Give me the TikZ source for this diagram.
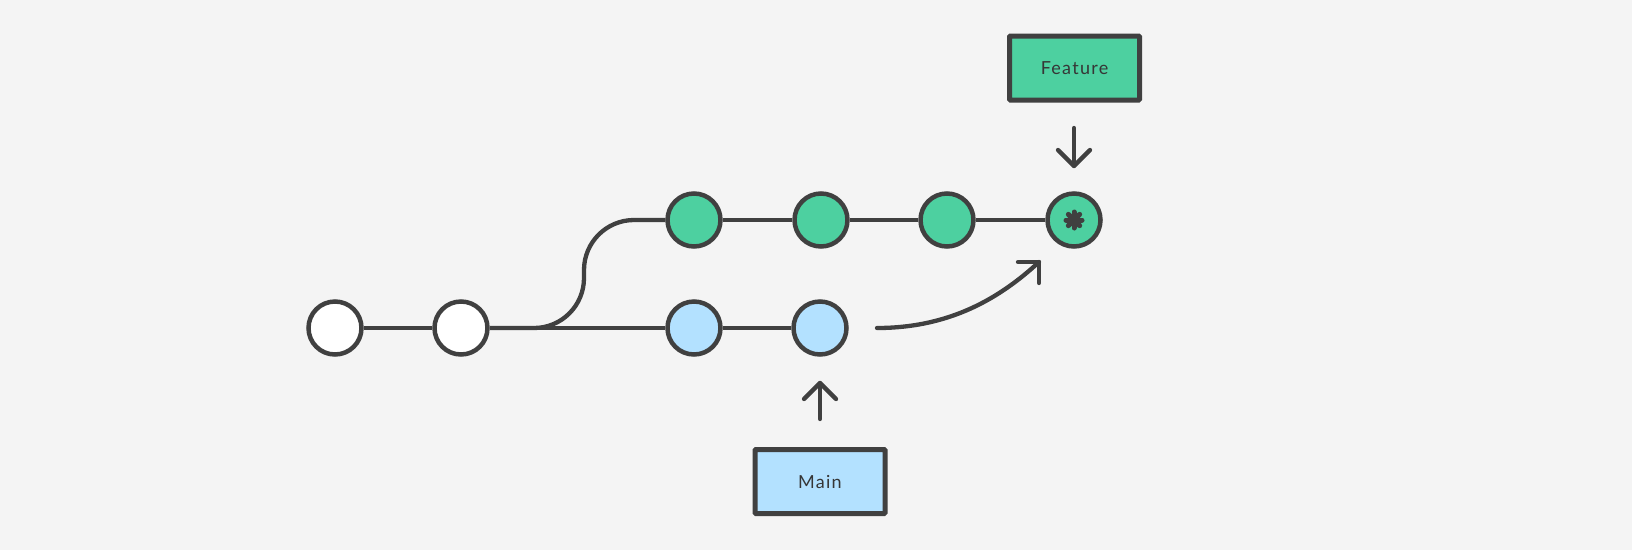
\documentclass[tikz,border=0pt]{standalone}
\usepackage{fontspec}
\setmainfont{Lato}
\usetikzlibrary{calc}
\definecolor{bg}{HTML}{F4F4F4}
\definecolor{ink}{HTML}{404040}
\definecolor{fgreen}{HTML}{4DD0A0}
\definecolor{mblue}{HTML}{B3E1FF}
\begin{document}
\begin{tikzpicture}[x=1pt,y=1pt,
  commit/.style={circle,draw=ink,line width=4.5pt,minimum size=53pt,inner sep=0pt},
  wcommit/.style={commit,fill=white},
  gcommit/.style={commit,fill=fgreen},
  bcommit/.style={commit,fill=mblue},
  label/.style={rectangle,draw=ink,line width=5pt,minimum width=130pt,minimum height=64pt,inner sep=0pt,rounded corners=1pt,font=\fontsize{18}{21}\selectfont\addfontfeatures{LetterSpace=7},text=ink!85!black},
  conn/.style={draw=ink,line width=4.3pt},
  ptr/.style={draw=ink,line width=4.3pt,line cap=round,line join=round}]
\fill[bg] (0,0) rectangle (1632,-550);
\useasboundingbox (0,0) rectangle (1632,-550);
% commits
\node[wcommit] (w1) at (335,-328) {};
\node[wcommit] (w2) at (461,-328) {};
\node[bcommit] (b1) at (694,-328) {};
\node[bcommit] (b2) at (820,-328) {};
\node[gcommit] (g1) at (694,-220) {};
\node[gcommit] (g2) at (821,-220) {};
\node[gcommit] (g3) at (947,-220) {};
\node[gcommit] (g4) at (1074,-220) {};
% asterisk in merge commit
\foreach \a in {0,45,90,135}
  \draw[ink,line width=5pt,line cap=round] ($(g4)+(\a:8)$) -- ($(g4)+(\a+180:8)$);
% labels
\node[label,fill=fgreen] (feat) at (1074.5,-68) {Feature};
\node[label,fill=mblue] (main) at (820,-481.5) {Main};
% connectors
\path[conn] (w1) -- (w2);
\path[conn] (w2) -- (b1);
\path[conn] (b1) -- (b2);
\path[conn] (g1) -- (g2);
\path[conn] (g2) -- (g3);
\path[conn] (g3) -- (g4);
\path[conn] (w2.east) -- (534,-328) arc[start angle=-90,end angle=0,radius=50] -- (584,-270) arc[start angle=180,end angle=90,radius=50] -- (g1.west);
% pointers
\coordinate (fa) at (1074,-128);
\coordinate (fb) at (1074,-166);
\path[ptr] (fa) -- (fb);
\path[ptr] ($(fb)+(-16,16)$) -- (fb) -- ($(fb)+(16,16)$);
\coordinate (ma) at (820,-419);
\coordinate (mb) at (820,-383);
\path[ptr] (ma) -- (mb);
\path[ptr] ($(mb)+(-16,-16)$) -- (mb) -- ($(mb)+(16,-16)$);
\coordinate (ca) at (877,-328);
\coordinate (cb) at (1039,-262);
\path[ptr] (ca) .. controls (950,-328) and (1000,-298) .. (cb);
\path[ptr] ($(cb)+(-21,0)$) -- (cb) -- ($(cb)+(0,-21)$);
\end{tikzpicture}
\end{document}
